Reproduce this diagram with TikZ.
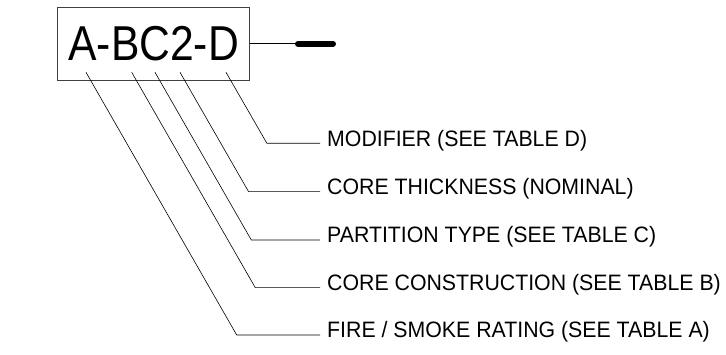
\documentclass[tikz,border=0pt]{standalone}
\usepackage{fontspec}
\setmainfont{Liberation Sans}
\newfontfamily\codefont[FakeStretch=0.87]{Liberation Sans}
\newfontfamily\tagfont[FakeStretch=0.955]{Liberation Sans}
\usetikzlibrary{calc,positioning}
\tikzset{
  leader/.style={line width=0.6pt,black},
  tag/.style={anchor=base west,inner sep=0pt,font=\tagfont\fontsize{22.3}{24}\selectfont},
}
\begin{document}
\begin{tikzpicture}[x=1pt,y=1pt]
        \useasboundingbox (0,0) rectangle (726,-355);
        \node[draw=black!75,line width=0.8pt,minimum width=192pt,minimum height=72.7pt,inner sep=0pt,
              font=\codefont\fontsize{49}{50}\selectfont] (code) at (153.7,-43.7) {A-BC2-D};

        % dash after the code
        \coordinate (barL) at (298,-43.7);
        \coordinate (barR) at (333,-43.7);
        \draw[leader] (code.east) -- (barL);
        \draw[line width=6pt,line cap=round] (barL) -- (barR);

        \foreach \n/\sx/\ex/\ey/\txt in {mod/226/266.9/143.3/{MODIFIER (SEE TABLE D)},
                                        thk/180/248.6/191.7/{CORE THICKNESS (NOMINAL)},
                                        prt/155/251.3/240/{PARTITION TYPE (SEE TABLE C)},
                                        con/131.7/255.3/287.7/{CORE CONSTRUCTION (SEE TABLE B)},
                                        fir/86/236.7/335/{FIRE / SMOKE RATING (SEE TABLE A)}}{
            \coordinate (s-\n) at (\sx,-72.3);
            \coordinate (e-\n) at (\ex,-\ey);
            \coordinate (h-\n) at (320,-\ey);
            \node[tag] (t-\n) at (327,-\ey-3) {\txt};
            \draw[leader] (s-\n) -- (e-\n) -- (h-\n);
        }
    \end{tikzpicture}
\end{document}
